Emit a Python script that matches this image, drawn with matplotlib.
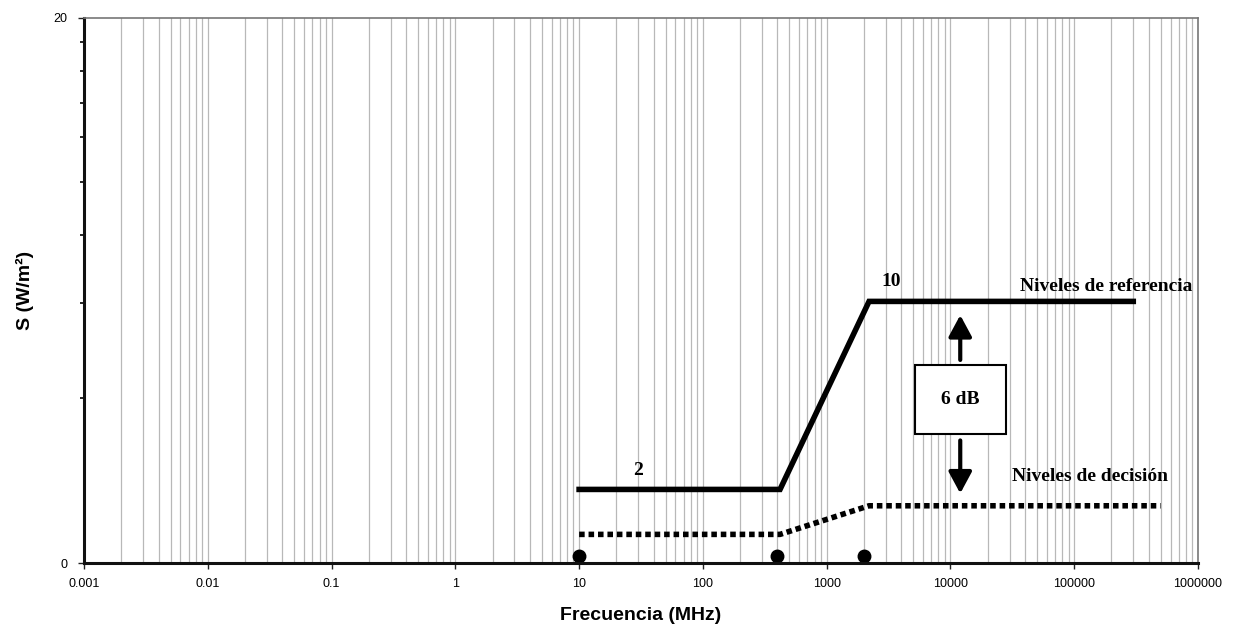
import matplotlib.pyplot as plt
from matplotlib.ticker import FixedLocator, NullFormatter

# reference levels (solid) and decision levels (dashed)
ref_f = [10, 420, 2200, 300000]
ref_s = [2.7, 2.7, 9.6, 9.6]
dec_f = [10, 420, 2200, 500000]
dec_s = [1.05, 1.05, 2.1, 2.1]
dot_f = [10, 400, 2000]
dot_s = [0.25, 0.25, 0.25]

x_ticks = [0.001, 0.01, 0.1, 1, 10, 100, 1000, 10000, 100000, 1000000]
x_labels = ["0.001", "0.01", "0.1", "1", "10", "100", "1000", "10000", "100000", "1000000"]
y_minor = [6.06, 9.54, 12.04, 13.98, 15.63, 16.88, 18.06, 19.12]

plt.rcParams['font.family'] = ['Liberation Sans', 'DejaVu Sans']
serif = 'Liberation Serif'

fig = plt.figure(figsize=(12.43, 6.26), dpi=100)
ax = fig.add_axes([84 / 1243, 63 / 626, 1114 / 1243, 545 / 626])

ax.set_xscale('log')
ax.set_xlim(0.001, 1000000)
ax.set_ylim(0, 20)
ax.set_xticks(x_ticks)
ax.set_xticklabels(x_labels)
ax.xaxis.set_minor_formatter(NullFormatter())
ax.set_yticks([0, 20])
ax.yaxis.set_minor_locator(FixedLocator(y_minor))
ax.tick_params(axis='both', which='major', labelsize=9, length=4, width=1, color='#222222')
ax.tick_params(axis='x', which='minor', length=0)
ax.tick_params(axis='y', which='minor', length=3, width=1.2)
ax.tick_params(axis='x', pad=7)
ax.tick_params(axis='y', pad=8)

ax.grid(True, which='both', axis='x', color='#b8b8b8', lw=0.9)
ax.set_axisbelow(True)

for side in ['left', 'bottom']:
    ax.spines[side].set_linewidth(2.2)
    ax.spines[side].set_color('#111111')
for side in ['top', 'right']:
    ax.spines[side].set_linewidth(1.2)
    ax.spines[side].set_color('#777777')

ax.plot(ref_f, ref_s, color='black', lw=4, solid_joinstyle='miter')
ax.plot(dec_f, dec_s, color='black', lw=4, linestyle=(0, (1.0, 0.7)))
ax.plot(dot_f, dot_s, 'o', color='black', ms=9, clip_on=False)

ax.text(30, 3.1, "2", family=serif, fontweight='bold', fontsize=14, ha='center', va='bottom')
ax.text(3300, 10.0, "10", family=serif, fontweight='bold', fontsize=14, ha='center', va='bottom')
ax.text(1.8e5, 9.85, "Niveles de referencia", family=serif, fontweight='bold',
        fontsize=14, ha='center', va='bottom')
ax.text(1.35e5, 2.85, "Niveles de decisión", family=serif, fontweight='bold',
        fontsize=14, ha='center', va='bottom')

# 6 dB box with arrows
ax.text(12000, 6.0, "6 dB", family=serif, fontweight='bold', fontsize=14, ha='center', va='center',
        bbox=dict(boxstyle='square,pad=1.35', fc='white', ec='black', lw=1.5))
ax.annotate("", xy=(12000, 9.2), xytext=(12000, 7.35),
            arrowprops=dict(arrowstyle='-|>,head_width=0.7,head_length=1.3', color='black', lw=3))
ax.annotate("", xy=(12000, 2.45), xytext=(12000, 4.6),
            arrowprops=dict(arrowstyle='-|>,head_width=0.7,head_length=1.3', color='black', lw=3))

ax.set_xlabel("Frecuencia (MHz)", fontsize=14, fontweight='bold', labelpad=12)
ax.set_ylabel("S (W/m²)", fontsize=14, fontweight='bold', labelpad=14)

fig.savefig("out.png", dpi=100)
